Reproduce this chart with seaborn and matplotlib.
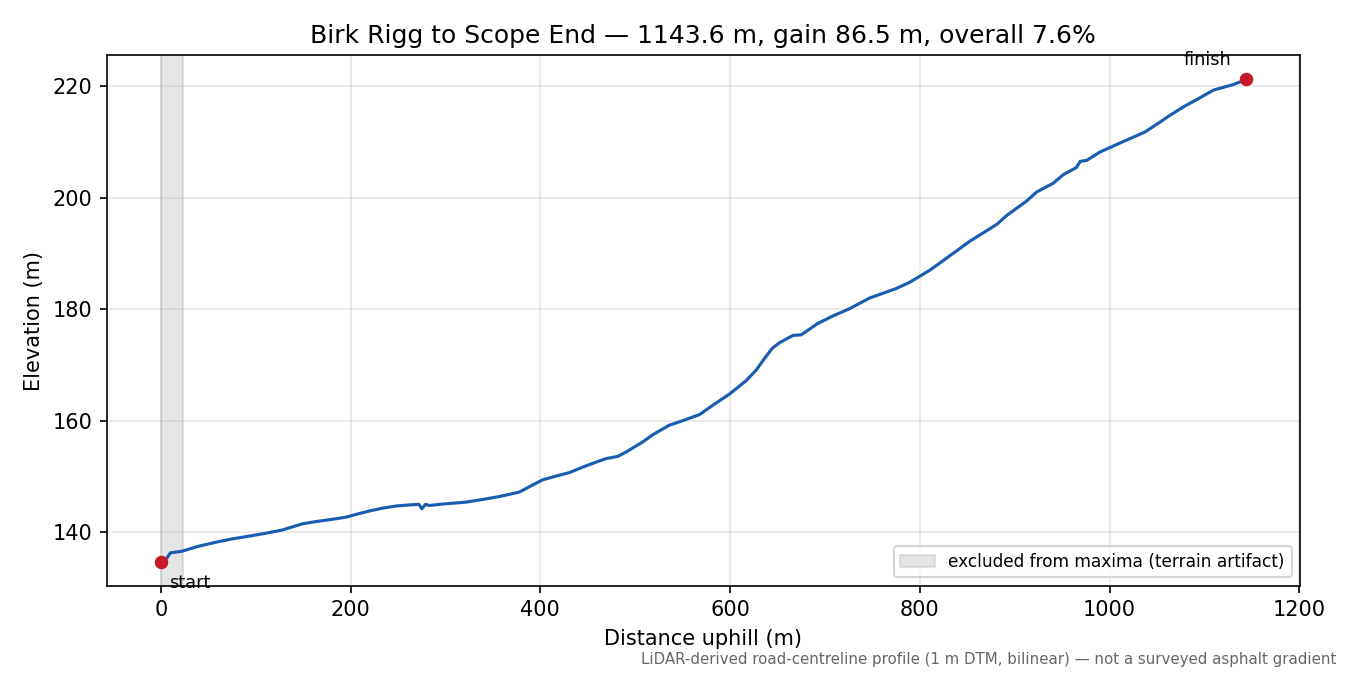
"""
Elevation profile: Birk Rigg to Scope End
"""
import pandas as pd
import seaborn as sns
import matplotlib
matplotlib.use("Agg")
import matplotlib.pyplot as plt

# Profile (distance m, elevation m)
distance = [0, 3, 6, 10, 22.5, 40, 57.7, 75, 92.9, 110, 128, 149, 163, 180, 195,
            208, 219.5, 233, 247.7, 262, 272, 275, 279, 283, 300, 321.6, 340,
            356.7, 377.8, 390, 402.4, 415, 430.6, 448, 469, 481.6, 490.4, 508,
            518.6, 536, 550, 567.8, 585.4, 599.5, 617, 627.6, 636.4, 644.5, 652.2,
            666.3, 675, 692, 708.5, 726, 747, 775, 789, 810.6, 835, 852.8, 881,
            891.5, 912.6, 923, 940.7, 951, 965, 969, 976, 990, 1011, 1037.5, 1050,
            1063.9, 1078, 1092, 1109.6, 1130.7, 1143.6]
elevation = [134.7, 134.9, 135.3, 136.3, 136.6, 137.5, 138.2, 138.8, 139.3, 139.8, 140.4,
             141.5, 141.9, 142.3, 142.7, 143.3, 143.8, 144.3, 144.7, 144.9, 145.0, 144.2,
             145.0, 144.8, 145.1, 145.4, 145.9, 146.4, 147.2, 148.3, 149.4, 150.0,
             150.7, 151.9, 153.2, 153.6, 154.4, 156.2, 157.5, 159.2, 160.0, 161.1,
             163.2, 164.8, 167.2, 169.1, 171.2, 173.0, 174.0, 175.3, 175.4, 177.4,
             178.8, 180.1, 182.0, 183.7, 184.8, 187.0, 190.0, 192.2, 195.2, 196.8,
             199.4, 201.0, 202.6, 204.1, 205.4, 206.5, 206.7, 208.2, 209.8, 211.8,
             213.2, 214.8, 216.3, 217.6, 219.3, 220.3, 221.2]

excluded_span = (0, 23)
title = "Birk Rigg to Scope End \u2014 1143.6 m, gain 86.5 m, overall 7.6%"
footer = ("LiDAR-derived road-centreline profile (1 m DTM, bilinear) "
          "\u2014 not a surveyed asphalt gradient")

df = pd.DataFrame({"distance": distance, "elevation": elevation})

plt.rcParams["xtick.labelsize"] = 10
plt.rcParams["ytick.labelsize"] = 10

fig, ax = plt.subplots(figsize=(9, 4.5), dpi=150)
plt.subplots_adjust(left=0.079, right=0.963, top=0.918, bottom=0.132)

ax.axvspan(*excluded_span, color="gray", alpha=0.2,
           label="excluded from maxima (terrain artifact)")
sns.lineplot(data=df, x="distance", y="elevation", ax=ax, color="#1a5cb0",
             linewidth=1.5, zorder=3)

# Start and finish markers
ax.scatter([distance[0], distance[-1]], [elevation[0], elevation[-1]],
           color="#c41a2a", s=30, zorder=4)
ax.annotate("start", (distance[0], elevation[0]), xytext=(4, -6),
            textcoords="offset points", ha="left", va="top", fontsize=8.5)
ax.annotate("finish", (distance[-1], elevation[-1]), xytext=(-7, 5),
            textcoords="offset points", ha="right", va="bottom", fontsize=8.5)

ax.grid(True, alpha=0.3)
ax.set_xlabel("Distance uphill (m)", fontsize=10)
ax.set_ylabel("Elevation (m)", fontsize=10)
ax.set_title(title, fontsize=12)
ax.set_xticks([0, 200, 400, 600, 800, 1000, 1200])
ax.legend(loc="lower right", fontsize=8.2)

fig.text(0.99, 0.012, footer, ha="right", va="bottom", fontsize=7.2, color="#666666")

plt.savefig("out.png", dpi=150)
